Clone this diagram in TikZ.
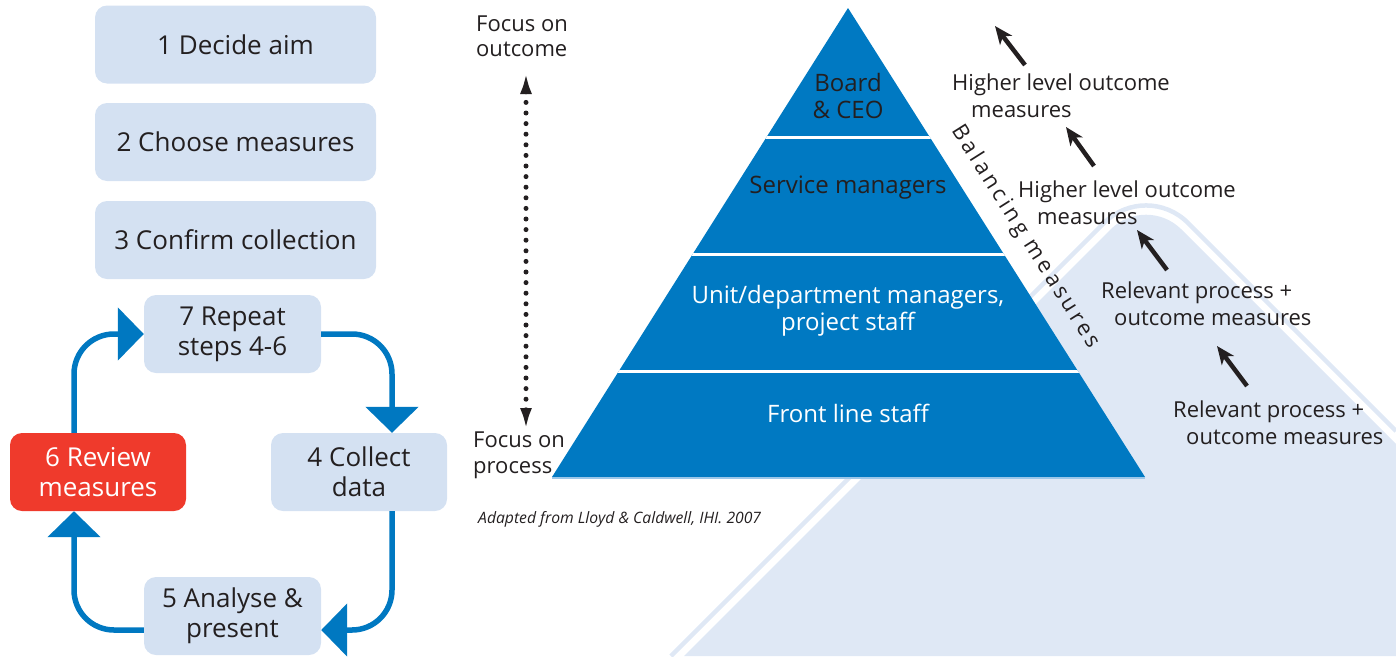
\documentclass[tikz,border=0pt]{standalone}
\usepackage{fontspec}
\setmainfont{Open Sans}
\usetikzlibrary{arrows.meta,calc}

\definecolor{ink}{HTML}{231F20}
\definecolor{boxblue}{HTML}{D4E1F2}
\definecolor{alertred}{HTML}{EF3A2C}
\definecolor{cycblue}{HTML}{0078C1}
\definecolor{pyblue}{HTML}{0079C2}
\definecolor{pale}{HTML}{DFE8F5}
\definecolor{edgeline}{HTML}{9CC7E9}

\begin{document}
\begin{tikzpicture}[x=1pt,y=-1pt,
  stepbox/.style={rectangle, rounded corners=12pt, fill=boxblue, text=ink,
    font=\fontsize{26}{30}\selectfont, align=center, inner sep=0pt},
  cyc/.style={draw=cycblue, line width=5.5pt, rounded corners=40pt,
    -{Triangle[length=26pt,width=52pt]}},
  lab/.style={text=ink, font=\fontsize{22}{27}\selectfont, inner sep=0pt, align=left},
  pylab/.style={text=ink, font=\fontsize{24}{27}\selectfont, inner sep=0pt, align=center},
  uparrow/.style={draw=ink, line width=4.5pt, -{Stealth[length=18pt,width=15pt,inset=5pt]}},
  dotline/.style={draw=ink, line width=5pt, dash pattern=on 0pt off 10.6pt, line cap=round,
    {Latex[length=22pt,width=12pt]}-{Latex[length=22pt,width=12pt]}}
]
\useasboundingbox (0,0) rectangle (1396,656);
\clip (0,0) rectangle (1396,656);

% pale backdrop with its outline band
\fill[pale] (684,656) [rounded corners=50pt] -- (1146,194) [sharp corners] -- (1396,444) -- (1396,656) -- cycle;
\draw[pale, line width=4.5pt] (671,656) [rounded corners=59pt] -- (1146,181) [sharp corners] -- (1396,431);

% step boxes 1-3
\node[stepbox, minimum width=281pt, minimum height=78pt] (s1) at (235.5,44.5) {1 Decide aim};
\node[stepbox, minimum width=281pt, minimum height=78pt] (s2) at (235.5,142) {2 Choose measures};
\node[stepbox, minimum width=281pt, minimum height=78pt] (s3) at (235.5,240) {3 Confirm collection};

% cycle of steps 4-7
\node[stepbox, minimum width=177pt, minimum height=78pt] (s7) at (232.5,334) {7 Repeat\\steps 4-6};
\node[stepbox, minimum width=176pt, minimum height=78pt] (s4) at (359,472) {4 Collect\\data};
\node[stepbox, minimum width=176pt, minimum height=78pt, fill=alertred, text=white] (s6) at (98,472) {6 Review\\measures};
\node[stepbox, minimum width=177pt, minimum height=78pt] (s5) at (232.5,616) {5 Analyse \&\\present};

\draw[cyc] (s7.east) -| ($(s4.north)+(33,0)$);
\draw[cyc] ($(s4.south)+(33,0)$) |- ($(s5.east)+(0,14)$);
\draw[cyc] ($(s5.west)+(0,14)$) -| ($(s6.south)+(-24,0)$);
\draw[cyc] ($(s6.north)+(-24,0)$) |- (s7.west);

% pyramid
\fill[pyblue] (848,8) -- (1145,477) -- (552,477) -- cycle;
\begin{scope}
  \clip (848,8) -- (1145,477) -- (552,477) -- cycle;
  \draw[white, line width=3pt] (540,137) -- (1160,137);
  \draw[white, line width=3pt] (540,254) -- (1160,254);
  \draw[white, line width=3pt] (540,371) -- (1160,371);
\end{scope}
\draw[edgeline, line width=1.5pt] (552,478) -- (1145,478);

\node[pylab] (lv1) at (848,96) {Board\\\& CEO};
\node[pylab] (lv2) at (848,188) {Service managers};
\node[pylab, text=white] (lv3) at (848,310.5) {Unit/department managers,\\project staff};
\node[pylab, text=white] (lv4) at (848,413) {Front line staff};

\node[lab, rotate=-57.66, font=\fontsize{22}{27}\selectfont\addfontfeature{LetterSpace=15}] (bal) at (1025,237) {Balancing measures};

% focus axis
\node[lab, font=\fontsize{22}{25}\selectfont, anchor=west] (fo) at (476,36.5) {Focus on\\outcome};
\node[lab, font=\fontsize{22}{26}\selectfont, anchor=west] (fp) at (473,455) {Focus on\\process};
\coordinate (ftop) at (526,72);
\coordinate (fbot) at (526,430);
\draw[dotline] (ftop) -- (fbot);

\node[lab, anchor=west, font=\itshape\fontsize{15.7}{18}\selectfont] (src) at (478,519) {Adapted from Lloyd \& Caldwell, IHI. 2007};

% measure levels
\node[lab, anchor=west] (h1) at (952,95.5) {Higher level outcome\\\hspace*{19pt}measures};
\node[lab, anchor=west] (h2) at (1018,202.5) {Higher level outcome\\\hspace*{19pt}measures};
\node[lab, anchor=west] (r1) at (1101,304) {Relevant process +\\\hspace*{13pt}outcome measures};
\node[lab, anchor=west] (r2) at (1173,423) {Relevant process +\\\hspace*{13pt}outcome measures};

\coordinate (a1s) at (1025,65);  \coordinate (a1t) at (995,26);
\coordinate (a2s) at (1094,166); \coordinate (a2t) at (1066,127);
\coordinate (a3s) at (1167,270); \coordinate (a3t) at (1137,230);
\coordinate (a4s) at (1247,386); \coordinate (a4t) at (1217,346);
\draw[uparrow] (a1s) -- (a1t);
\draw[uparrow] (a2s) -- (a2t);
\draw[uparrow] (a3s) -- (a3t);
\draw[uparrow] (a4s) -- (a4t);
\end{tikzpicture}
\end{document}
